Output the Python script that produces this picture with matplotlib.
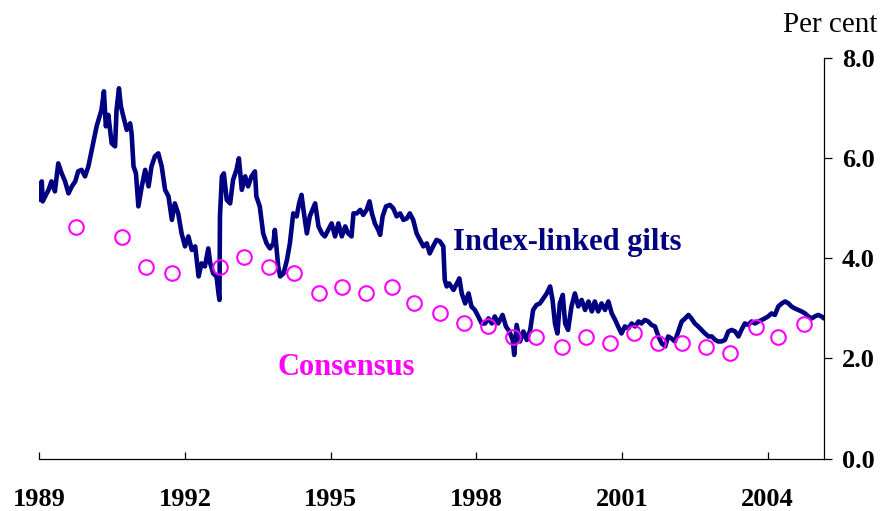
import matplotlib
matplotlib.use("Agg")
import matplotlib.pyplot as plt

gilt_years = [
    1989.00, 1989.02, 1989.05, 1989.07, 1989.12, 1989.19, 1989.25, 1989.32, 1989.39, 1989.46,
    1989.53, 1989.60, 1989.67, 1989.74, 1989.80, 1989.87, 1989.94, 1990.01, 1990.08, 1990.15,
    1990.18, 1990.22, 1990.28, 1990.33, 1990.37, 1990.42, 1990.49, 1990.56, 1990.59, 1990.64,
    1990.68, 1990.73, 1990.80, 1990.87, 1990.90, 1990.94, 1990.99, 1991.04, 1991.11, 1991.18,
    1991.25, 1991.31, 1991.38, 1991.45, 1991.52, 1991.59, 1991.66, 1991.73, 1991.79, 1991.86,
    1991.93, 1992.00, 1992.07, 1992.14, 1992.21, 1992.28, 1992.34, 1992.41, 1992.48, 1992.52,
    1992.58, 1992.65, 1992.69, 1992.71, 1992.72, 1992.76, 1992.80, 1992.86, 1992.93, 1992.99,
    1993.06, 1993.11, 1993.17, 1993.24, 1993.30, 1993.37, 1993.44, 1993.47, 1993.54, 1993.61,
    1993.68, 1993.75, 1993.82, 1993.85, 1993.92, 1993.96, 1994.03, 1994.10, 1994.16, 1994.23,
    1994.30, 1994.35, 1994.40, 1994.44, 1994.51, 1994.57, 1994.68, 1994.75, 1994.82, 1994.88,
    1994.95, 1995.02, 1995.09, 1995.16, 1995.23, 1995.30, 1995.36, 1995.43, 1995.47, 1995.54,
    1995.61, 1995.67, 1995.74, 1995.80, 1995.85, 1995.91, 1995.98, 1996.02, 1996.07, 1996.14,
    1996.22, 1996.29, 1996.36, 1996.43, 1996.50, 1996.57, 1996.63, 1996.70, 1996.77, 1996.84,
    1996.91, 1996.98, 1997.04, 1997.11, 1997.18, 1997.25, 1997.32, 1997.35, 1997.39, 1997.44,
    1997.53, 1997.60, 1997.65, 1997.70, 1997.77, 1997.84, 1997.90, 1997.97, 1998.04, 1998.11,
    1998.18, 1998.25, 1998.32, 1998.38, 1998.45, 1998.54, 1998.61, 1998.68, 1998.75, 1998.78,
    1998.83, 1998.90, 1998.97, 1999.04, 1999.11, 1999.17, 1999.24, 1999.31, 1999.38, 1999.45,
    1999.52, 1999.57, 1999.62, 1999.67, 1999.72, 1999.78, 1999.83, 1999.89, 1999.96, 2000.03,
    2000.10, 2000.17, 2000.24, 2000.31, 2000.38, 2000.44, 2000.51, 2000.58, 2000.65, 2000.72,
    2000.79, 2000.86, 2000.92, 2000.99, 2001.06, 2001.13, 2001.20, 2001.27, 2001.34, 2001.40,
    2001.47, 2001.54, 2001.61, 2001.68, 2001.75, 2001.82, 2001.89, 2001.95, 2002.02, 2002.09,
    2002.16, 2002.23, 2002.30, 2002.37, 2002.43, 2002.50, 2002.57, 2002.64, 2002.71, 2002.78,
    2002.85, 2002.92, 2002.98, 2003.05, 2003.12, 2003.19, 2003.26, 2003.33, 2003.40, 2003.46,
    2003.53, 2003.60, 2003.67, 2003.74, 2003.81, 2003.88, 2003.94, 2004.01, 2004.08, 2004.15,
    2004.22, 2004.29, 2004.36, 2004.43, 2004.49, 2004.56, 2004.63, 2004.70, 2004.77, 2004.84,
    2004.91, 2004.97, 2005.04, 2005.11, 2005.16,
]
gilt_values = [
    5.50, 5.17, 5.54, 5.14, 5.24, 5.37, 5.54, 5.34, 5.90, 5.70,
    5.54, 5.30, 5.44, 5.54, 5.74, 5.77, 5.64, 5.84, 6.17, 6.50,
    6.64, 6.77, 6.97, 7.34, 6.64, 6.87, 6.30, 6.24, 6.97, 7.40,
    7.04, 6.84, 6.57, 6.70, 6.50, 5.84, 5.70, 5.04, 5.44, 5.77,
    5.44, 5.84, 6.04, 6.10, 5.84, 5.37, 5.24, 4.77, 5.10, 4.90,
    4.50, 4.24, 4.44, 4.17, 4.24, 3.64, 3.90, 3.84, 4.20, 3.90,
    3.70, 3.64, 3.30, 3.17, 4.84, 5.64, 5.70, 5.17, 5.10, 5.57,
    5.77, 6.00, 5.37, 5.64, 5.44, 5.64, 5.74, 5.24, 5.04, 4.50,
    4.30, 4.20, 4.30, 4.57, 3.84, 3.64, 3.70, 3.97, 4.30, 4.90,
    4.84, 5.10, 5.27, 4.97, 4.50, 4.84, 5.10, 4.64, 4.50, 4.44,
    4.57, 4.70, 4.44, 4.70, 4.44, 4.64, 4.50, 4.44, 4.90, 4.90,
    4.97, 4.87, 4.97, 5.14, 4.90, 4.70, 4.57, 4.47, 4.84, 5.04,
    5.07, 5.00, 4.84, 4.90, 4.77, 4.80, 4.90, 4.77, 4.50, 4.37,
    4.24, 4.30, 4.10, 4.24, 4.37, 4.34, 4.24, 3.57, 3.44, 3.50,
    3.37, 3.50, 3.60, 3.30, 3.10, 3.30, 3.04, 2.97, 2.84, 2.70,
    2.70, 2.80, 2.70, 2.84, 2.70, 2.87, 2.64, 2.54, 2.37, 2.07,
    2.67, 2.34, 2.54, 2.37, 2.57, 2.97, 3.07, 3.10, 3.20, 3.30,
    3.44, 3.17, 2.70, 2.50, 3.10, 3.27, 2.70, 2.57, 3.04, 3.30,
    3.04, 3.17, 2.97, 3.14, 2.94, 3.14, 2.94, 3.10, 2.97, 3.14,
    2.90, 2.77, 2.64, 2.50, 2.64, 2.60, 2.70, 2.64, 2.74, 2.70,
    2.77, 2.74, 2.67, 2.64, 2.44, 2.30, 2.24, 2.44, 2.40, 2.34,
    2.54, 2.74, 2.80, 2.87, 2.80, 2.70, 2.64, 2.57, 2.50, 2.44,
    2.44, 2.37, 2.34, 2.34, 2.37, 2.54, 2.57, 2.54, 2.44, 2.57,
    2.70, 2.67, 2.74, 2.70, 2.74, 2.77, 2.80, 2.84, 2.90, 2.87,
    3.04, 3.10, 3.14, 3.10, 3.04, 3.00, 2.97, 2.94, 2.90, 2.84,
    2.80, 2.84, 2.87, 2.84, 2.80,
]

# Consensus survey expectations (per cent)
consensus_years = [
    1989.76, 1990.71, 1991.20, 1991.73, 1992.72, 1993.22, 1993.72, 1994.25, 1994.75, 1995.24,
    1995.73, 1996.27, 1996.72, 1997.26, 1997.75, 1998.25, 1998.75, 1999.23, 1999.77, 2000.26,
    2000.76, 2001.25, 2001.75, 2002.24, 2002.74, 2003.23, 2003.77, 2004.22, 2004.75,
]
consensus_values = [
    4.62, 4.42, 3.82, 3.70, 3.82, 4.02, 3.82, 3.70, 3.30, 3.42,
    3.30, 3.42, 3.10, 2.90, 2.70, 2.64, 2.42, 2.43, 2.22, 2.43,
    2.31, 2.51, 2.31, 2.31, 2.22, 2.11, 2.62, 2.43, 2.69,
]

x_ticks = [1989, 1992, 1995, 1998, 2001, 2004]
x_tick_labels = ["1989", "1992", "1995", "1998", "2001", "2004"]
y_ticks = [0, 2, 4, 6, 8]
y_tick_labels = ["0.0", "2.0", "4.0", "6.0", "8.0"]

SERIF = ["Liberation Serif", "DejaVu Serif"]
NAVY = "#000080"
MAGENTA = "#FF00FF"

fig = plt.figure(figsize=(8.84, 5.11), dpi=100)
ax = fig.add_axes([0.0445, 0.1027, 0.8873, 0.7832])

ax.plot(gilt_years, gilt_values, color=NAVY, lw=3.3, solid_joinstyle="round",
        solid_capstyle="round", zorder=2)
ax.plot(consensus_years, consensus_values, ls="none", marker="o", ms=10.5,
        mfc="none", mec=MAGENTA, mew=1.5, zorder=3)

ax.set_xlim(1989.0, 2005.155)
ax.set_ylim(0, 8)

for s in ["left", "top"]:
    ax.spines[s].set_visible(False)
for s in ["right", "bottom"]:
    ax.spines[s].set_linewidth(0.9)
    ax.spines[s].set_color("black")

ax.yaxis.tick_right()
ax.set_yticks(y_ticks)
ax.set_yticklabels(y_tick_labels, fontfamily=SERIF, fontweight="bold", fontsize=19)
ax.tick_params(axis="y", direction="out", length=6, width=0.9, pad=7)

ax.set_xticks(x_ticks)
ax.set_xticklabels(x_tick_labels, fontfamily=SERIF, fontweight="bold", fontsize=19)
ax.tick_params(axis="x", direction="in", length=5, width=0.9, pad=21)

fig.text(0.992, 1 - 32 / 511, "Per cent", ha="right", va="baseline",
         fontsize=21, fontfamily=SERIF)

ax.text(1997.52, 4.17, "Index-linked gilts", color=NAVY, fontsize=22, fontweight="bold",
        fontfamily=SERIF, ha="left", va="baseline")
ax.text(1993.9, 1.67, "Consensus", color=MAGENTA, fontsize=22, fontweight="bold",
        fontfamily=SERIF, ha="left", va="baseline")

fig.savefig("out.png", dpi=100)
